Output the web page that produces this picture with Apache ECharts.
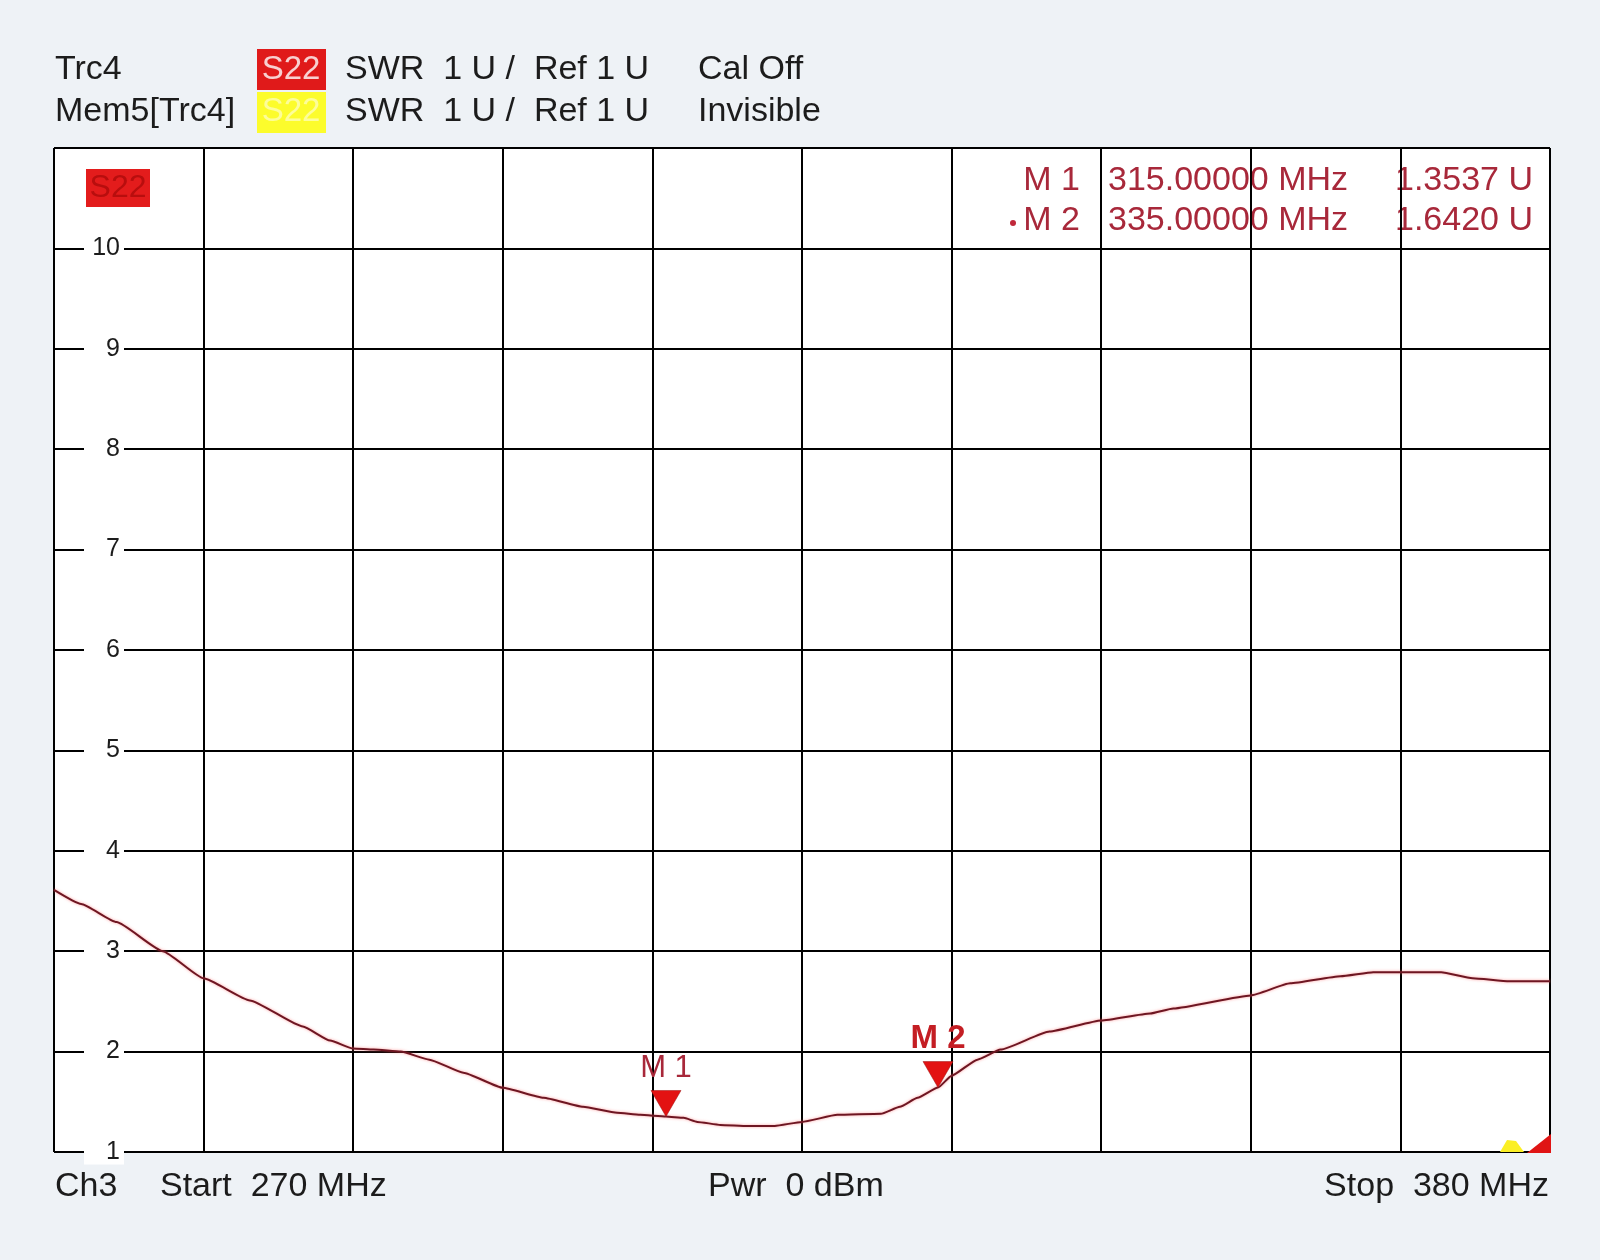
<!DOCTYPE html>
<html>
<head>
<meta charset="utf-8">
<script src="https://cdn.jsdelivr.net/npm/echarts@6/dist/echarts.min.js"></script>
<style>
  html, body { margin: 0; padding: 0; background: #eef2f6; }
  #chart { width: 1600px; height: 1260px; }
</style>
</head>
<body>
<div id="chart"></div>
<script>
// ---- data ----
const START_MHZ = 270;
const STOP_MHZ = 380;
const freqMHz = [270, 272, 274.6, 278, 281, 284.4, 288.3, 290.3, 292, 293.5, 295.5, 297.6, 300.1, 303, 306,
  308.9, 311.4, 313.1, 315, 316.3, 317.3, 319, 321, 323, 325, 327.6, 330.8, 332.2, 333.5, 335, 336, 337.9,
  339.6, 343.2, 347, 350.6, 352.3, 358, 360.9, 364.6, 367, 370, 372, 374.3, 377, 380];
const swr = [3.61, 3.47, 3.29, 3.0, 2.73, 2.51, 2.25, 2.11, 2.03, 2.02, 2.0, 1.92, 1.79, 1.64, 1.54,
  1.45, 1.39, 1.37, 1.354, 1.34, 1.30, 1.27, 1.26, 1.26, 1.30, 1.37, 1.38, 1.45, 1.54, 1.642, 1.76, 1.92,
  2.02, 2.20, 2.31, 2.38, 2.43, 2.56, 2.68, 2.75, 2.79, 2.79, 2.79, 2.73, 2.70, 2.70];
const markerNames = ['M 1', 'M 2'];
const markerFreqs = [315, 335];
const markerValues = [1.3537, 1.6420];
const yTickLabels = ['1', '2', '3', '4', '5', '6', '7', '8', '9', '10'];
const headerRow1 = ['Trc4', 'S22', 'SWR  1 U /  Ref 1 U', 'Cal Off'];
const headerRow2 = ['Mem5[Trc4]', 'S22', 'SWR  1 U /  Ref 1 U', 'Invisible'];
const footer = ['Ch3', 'Start  ' + START_MHZ + ' MHz', 'Pwr  0 dBm', 'Stop  ' + STOP_MHZ + ' MHz'];

// ---- layout ----
const G = { left: 54, top: 148, right: 50, bottom: 108 };
const plotW = 1600 - G.left - G.right;
const plotH = 1260 - G.top - G.bottom;
const FONT = '"Liberation Sans", Arial, sans-serif';
const TXT = '#1c1c1c';
const MK = '#a8283a';

const chart = echarts.init(document.getElementById('chart'));

function txt(x, y, text, size, fill, align, extra) {
  return Object.assign({
    type: 'text', x: x, y: y, z: 5,
    style: { text: text, fill: fill, font: size + 'px ' + FONT, align: align || 'left', verticalAlign: 'middle' }
  }, extra || {});
}

const elements = [
  // plot background
  { type: 'rect', z: -10, shape: { x: G.left, y: G.top, width: plotW, height: plotH }, style: { fill: '#ffffff' } },
  // header
  txt(55, 70, headerRow1[0], 34, TXT),
  { type: 'rect', z: 5, shape: { x: 257, y: 49, width: 69, height: 41 }, style: { fill: '#e01a1a' } },
  txt(291, 70, headerRow1[1], 33, '#f8d0d0', 'center'),
  txt(345, 70, headerRow1[2], 34, TXT),
  txt(698, 70, headerRow1[3], 34, TXT),
  txt(55, 112, headerRow2[0], 34, TXT),
  { type: 'rect', z: 5, shape: { x: 257, y: 92, width: 69, height: 41 }, style: { fill: '#fcfc2c' } },
  txt(291, 112, headerRow2[1], 33, '#fdfd9a', 'center'),
  txt(345, 112, headerRow2[2], 34, TXT),
  txt(698, 112, headerRow2[3], 34, TXT),
  // in-plot trace badge
  { type: 'rect', z: 5, shape: { x: 86, y: 169, width: 64, height: 38 }, style: { fill: '#e31c1c' } },
  txt(118, 188, 'S22', 32, '#b80e0e', 'center'),
  // footer
  txt(55, 1187, footer[0], 34, TXT),
  txt(160, 1187, footer[1], 34, TXT),
  txt(708, 1187, footer[2], 34, TXT),
  txt(1549, 1187, footer[3], 34, TXT, 'right'),
  // corner indicators
  { type: 'polygon', z: 20, shape: { points: [[1500, 1152], [1524, 1152], [1516, 1141], [1507, 1140]] }, style: { fill: '#fbef24' } },
  { type: 'polygon', z: 20, shape: { points: [[1527, 1153], [1551, 1153], [1551, 1134]] }, style: { fill: '#e01414' } }
];
// marker table (drawn beneath the grid lines)
markerNames.forEach(function (n, i) {
  const y = 181 + i * 40;
  elements.push(txt(1080, y, n, 34, MK, 'right', { z: -5 }));
  elements.push(txt(1108, y, markerFreqs[i].toFixed(5) + ' MHz', 34, MK, 'left', { z: -5 }));
  elements.push(txt(1533, y, markerValues[i].toFixed(4) + ' U', 34, MK, 'right', { z: -5 }));
});
elements.push({ type: 'circle', z: -5, shape: { cx: 1013, cy: 223, r: 3 }, style: { fill: '#c0283a' } });

const gridLine = { show: true, lineStyle: { color: '#000', width: 2 } };

chart.setOption({
  backgroundColor: '#eef2f6',
  animation: false,
  grid: { left: G.left, top: G.top, right: G.right, bottom: G.bottom, containLabel: false },
  xAxis: {
    type: 'value', min: 0, max: STOP_MHZ - START_MHZ, interval: 11,
    axisLine: { show: false }, axisTick: { show: false }, axisLabel: { show: false },
    splitLine: gridLine
  },
  yAxis: {
    type: 'value', min: 1, max: 11, interval: 1,
    axisLine: { show: false }, axisTick: { show: false },
    splitLine: gridLine,
    axisLabel: {
      inside: true, margin: 70, align: 'right', width: 30,
      showMaxLabel: false,
      formatter: function (v) { const s = String(v); return yTickLabels.indexOf(s) >= 0 ? s : ''; },
      color: '#1c1c1c', fontSize: 25, fontFamily: FONT,
      backgroundColor: '#ffffff', padding: [0, 4, 0, 6]
    }
  },
  graphic: { elements: elements },
  series: [{
    type: 'line',
    z: 3,
    data: freqMHz.map(function (f, i) { return [f - START_MHZ, swr[i]]; }),
    showSymbol: false,
    smooth: 0.15,
    smoothMonotone: 'x',
    lineStyle: { color: '#6e1622', width: 2, shadowColor: 'rgba(255,90,90,0.6)', shadowBlur: 3 },
    markPoint: {
      symbol: 'path://M0,0 L30,0 L15,26 Z',
      symbolSize: [30, 26],
      symbolOffset: [0, -13],
      itemStyle: { color: '#e31212', borderColor: '#9a1010', borderWidth: 0.5 },
      data: markerNames.map(function (n, i) {
        return {
          name: n,
          coord: [markerFreqs[i] - START_MHZ, markerValues[i]],
          label: {
            show: true, position: 'top', distance: 6, formatter: n,
            color: i === 0 ? '#a8283a' : '#c41e24',
            fontSize: i === 0 ? 31 : 33, fontWeight: i === 0 ? 'normal' : 'bold', fontFamily: FONT
          }
        };
      })
    }
  }]
});
</script>
</body>
</html>
